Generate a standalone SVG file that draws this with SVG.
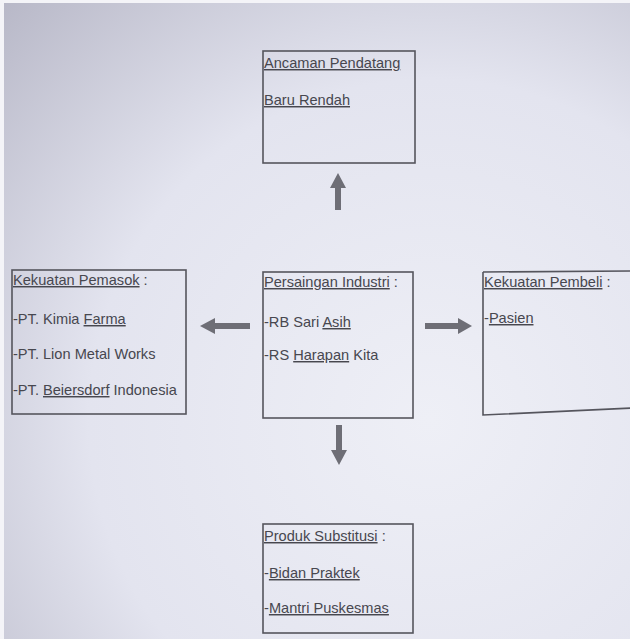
<svg xmlns="http://www.w3.org/2000/svg" width="630" height="639" viewBox="0 0 630 639">
<defs>
<radialGradient id="paper" cx="430" cy="420" r="620" gradientUnits="userSpaceOnUse">
<stop offset="0" stop-color="#eeeff6"/>
<stop offset="0.55" stop-color="#e3e4ef"/>
<stop offset="1" stop-color="#b4b4c4"/>
</radialGradient>
<style>
.box{fill:none;stroke:#55555d;stroke-width:1.6}
.t{font-family:"Liberation Sans",Arial,sans-serif;font-size:14.6px;fill:#47474f}
.w{text-decoration:underline;text-decoration-color:#8a8a96}
.arr{fill:#6e6e76}
</style>
</defs>
<rect x="0" y="0" width="630" height="639" fill="url(#paper)"/>
<rect x="0" y="0" width="630" height="3" fill="#f4f4f8"/>
<rect x="0" y="0" width="4" height="639" fill="#f4f4f8"/>

<g id="ancaman">
<rect class="box" x="263" y="51" width="152" height="112"/>
<text class="t" x="264" y="68"><tspan class="w">Ancaman Pendatang</tspan></text>
<text class="t" x="264" y="105"><tspan class="w">Baru Rendah</tspan></text>
</g>

<g id="pemasok">
<rect class="box" x="12" y="270" width="174" height="144"/>
<text class="t" x="13" y="285"><tspan class="w">Kekuatan Pemasok</tspan> :</text>
<text class="t" x="13" y="324">-PT. Kimia <tspan class="w">Farma</tspan></text>
<text class="t" x="13" y="359">-PT. Lion Metal Works</text>
<text class="t" x="13" y="395">-PT. <tspan class="w">Beiersdorf</tspan> Indonesia</text>
</g>

<g id="persaingan">
<rect class="box" x="263" y="272" width="150" height="146"/>
<text class="t" x="264" y="287"><tspan class="w">Persaingan Industri</tspan> :</text>
<text class="t" x="264" y="327">-RB Sari <tspan class="w">Asih</tspan></text>
<text class="t" x="264" y="360">-RS <tspan class="w">Harapan</tspan> Kita</text>
</g>

<g id="pembeli">
<path class="box" d="M483 272 L632 271 M483 272 L483 415 L632 408"/>
<text class="t" x="484" y="287"><tspan class="w">Kekuatan Pembeli</tspan> :</text>
<text class="t" x="484" y="323">-<tspan class="w">Pasien</tspan></text>
</g>

<g id="substitusi">
<rect class="box" x="263" y="524" width="150" height="109"/>
<text class="t" x="264" y="541"><tspan class="w">Produk Substitusi</tspan> :</text>
<text class="t" x="264" y="578">-<tspan class="w">Bidan Praktek</tspan></text>
<text class="t" x="264" y="613">-<tspan class="w">Mantri Puskesmas</tspan></text>
</g>

<g id="connectors">
<polygon class="arr" points="335,210 341,210 341,188 346,188 338,173 330,188 335,188"/>
<polygon class="arr" points="250,323 250,329 215,329 215,334 200,326 215,318 215,323"/>
<polygon class="arr" points="425,323 425,329 458,329 458,334 472,326 458,318 458,323"/>
<polygon class="arr" points="336,425 342,425 342,450 347,450 339,465 331,450 336,450"/>
</g>
</svg>
